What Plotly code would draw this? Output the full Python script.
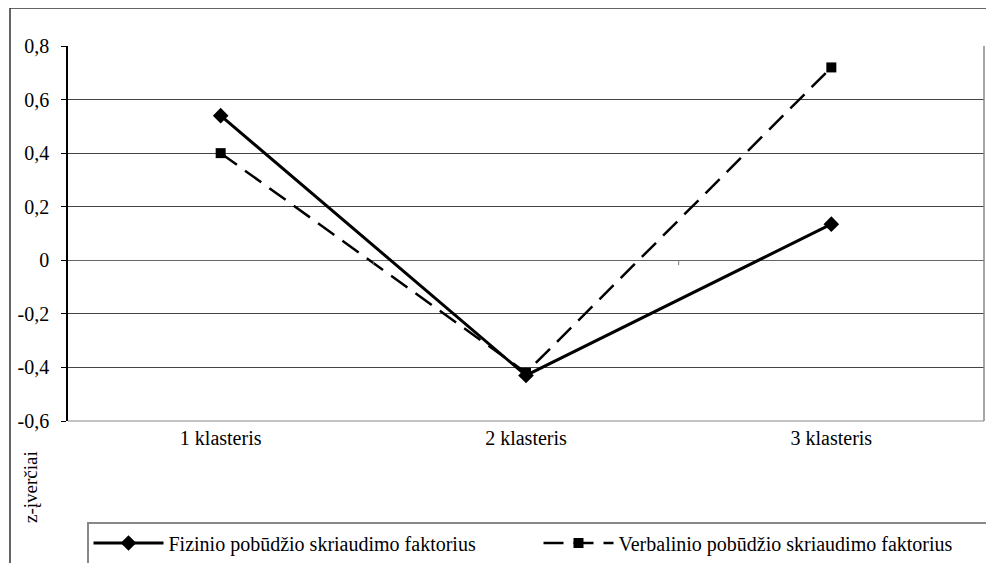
import plotly.graph_objects as go

categories = ["1 klasteris", "2 klasteris", "3 klasteris"]
fizinio = [0.54, -0.43, 0.135]
verbalinio = [0.40, -0.42, 0.72]
series_names = ["Fizinio pobūdžio skriaudimo faktorius", "Verbalinio pobūdžio skriaudimo faktorius"]
y_tickvals = [-0.6, -0.4, -0.2, 0, 0.2, 0.4, 0.6, 0.8]
y_ticktext = ["-0,6", "-0,4", "-0,2", "0", "0,2", "0,4", "0,6", "0,8"]
y_title = "z-įverčiai"

FONT = "'Liberation Serif', 'Times New Roman', Times, serif"
FS = 20

fig = go.Figure()
fig.add_trace(go.Scatter(
    x=categories, y=fizinio, name=series_names[0], mode="lines+markers",
    line=dict(color="black", width=3),
    marker=dict(symbol="diamond", size=12, color="black"),
))
fig.add_trace(go.Scatter(
    x=categories, y=verbalinio, name=series_names[1], mode="lines+markers",
    line=dict(color="black", width=2.5, dash="20px,10px"),
    marker=dict(symbol="square", size=10, color="black"),
))

OFF = 8  # browser body margin
W, H = 994 - OFF, 563 - OFF
PL, PR, PT, PB = 68, 984, 46, 421
L, T = PL - OFF, PT - OFF
R = 994 - PR
B = 563 - PB
pw, ph = PR - PL, PB - PT

def px_x(p):
    return (p - PL) / pw

def px_y(p):
    return (PB - p) / ph

shapes = [
    dict(type="rect", xref="paper", yref="paper",
         x0=px_x(10), x1=px_x(1000), y0=px_y(8), y1=px_y(600),
         line=dict(color="#333333", width=1.5), layer="below"),
    dict(type="line", xref="paper", yref="paper", x0=1, x1=1, y0=0, y1=1,
         line=dict(color="#888888", width=1.5)),
    dict(type="line", xref="paper", yref="paper", x0=0, x1=1, y0=0, y1=0,
         line=dict(color="#888888", width=1)),
]
for xb in [0.5, 1.5]:
    shapes.append(dict(type="line", xref="x", yref="y", ysizemode="pixel",
                       yanchor=0, x0=xb, x1=xb, y0=0, y1=-5,
                       line=dict(color="#777777", width=1)))

fig.update_layout(
    width=W, height=H,
    margin=dict(l=L, r=R, t=T, b=B, autoexpand=False),
    paper_bgcolor="white", plot_bgcolor="white",
    font=dict(family=FONT, size=FS, color="black"),
    showlegend=True,
    legend=dict(
        orientation="h", xref="paper", yref="paper",
        x=px_x(87), y=px_y(522), xanchor="left", yanchor="top",
        bordercolor="#888888", borderwidth=1.5, bgcolor="white",
        font=dict(family=FONT, size=FS, color="black"),
        itemwidth=70, entrywidth=365, entrywidthmode="pixels", tracegroupgap=0,
    ),
    xaxis=dict(
        type="category", range=[-0.5, 2.5], showgrid=False, zeroline=False,
        showline=False, ticks="", ticklabelstandoff=3,
        tickfont=dict(family=FONT, size=FS, color="black"),
    ),
    yaxis=dict(
        range=[-0.6, 0.8], tickvals=y_tickvals, ticktext=y_ticktext,
        showgrid=True, gridcolor="#444444", gridwidth=1,
        zeroline=True, zerolinecolor="#666666", zerolinewidth=1,
        showline=True, linecolor="black", linewidth=1.5,
        ticks="outside", ticklen=5, tickcolor="black", ticklabelstandoff=8,
        tickfont=dict(family=FONT, size=FS, color="black"),
    ),
    shapes=shapes,
    annotations=[dict(
        text=y_title, xref="paper", yref="paper",
        x=px_x(30), y=px_y(487), xanchor="center", yanchor="middle",
        textangle=-90, showarrow=False,
        font=dict(family=FONT, size=FS - 1, color="black"),
    )],
)

fig.write_html("out.html")
